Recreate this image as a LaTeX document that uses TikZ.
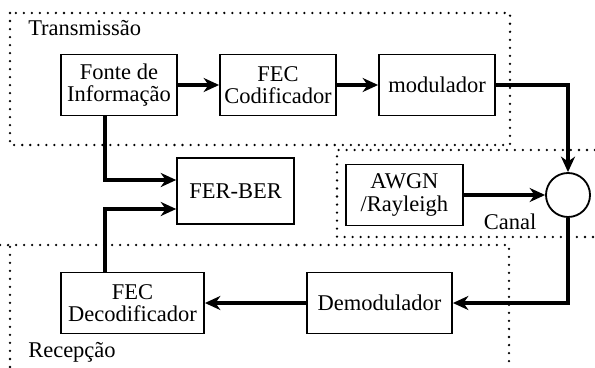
\documentclass[tikz,border=0pt]{standalone}
\usepackage{fontspec}
\setmainfont{Liberation Serif}
\usetikzlibrary{arrows.meta}

\tikzset{
  box/.style={draw, line width=1.3pt, minimum width=2.9cm, minimum height=1.525cm,
    align=center, inner sep=1pt},
  conn/.style={line width=2.8pt, -{Stealth[length=11pt, width=10pt, inset=3.5pt]}},
  region/.style={line width=1.8pt, line cap=round, dash pattern=on 0pt off 5.7pt},
}

\begin{document}
\begin{tikzpicture}[font=\fontsize{16}{16}\selectfont]
\useasboundingbox (0,0) rectangle (14.875,9.175);

% regions
\draw[region] (0.25,8.85) rectangle (12.75,5.55);
\draw[region] (14.875,5.425) -- (8.425,5.425) -- (8.425,3.25) -- (14.875,3.25);
\draw[region] (0,3.05) -- (12.725,3.05) -- (12.725,0);
\draw[region] (0.25,0) -- (0.25,3.05);
\node[anchor=west, inner sep=0pt] (ltx) at (0.7,8.475) {Transmissão};
\node[inner sep=0pt] (lcanal) at (12.75,3.625) {Canal};
\node[anchor=west, inner sep=0pt] (lrx) at (0.7,0.375) {Recepção};

% blocks
\node[box] (fonte) at (2.975,7.05) {Fonte de\\Informação};
\node[box] (fecc) at (6.95,7.05) {FEC\\Codificador};
\node[box] (mod) at (10.925,7.05) {modulador};
\node[draw, circle, line width=1.3pt, minimum size=1.1cm, inner sep=0pt] (soma) at (14.2,4.3) {};
\node[box, minimum width=2.925cm] (awgn) at (10.11,4.3) {AWGN\\/Rayleigh};
\node[box, minimum width=2.925cm, minimum height=1.65cm] (ferber) at (5.89,4.4) {FER-BER};
\node[box, minimum width=3.575cm] (fecd) at (3.3125,1.6) {FEC\\Decodificador};
\node[box, minimum width=3.625cm] (demod) at (9.4875,1.6) {Demodulador};

% connections
\draw[conn] (fonte) -- (fecc);
\draw[conn] (fecc) -- (mod);
\draw[conn] (mod.east) -| (soma.north);
\draw[conn] (awgn) -- (soma);
\draw[conn] (soma.south) |- (demod.east);
\draw[conn] (demod) -- (fecd);
\draw[conn] ([xshift=-0.35cm]fonte.south) |- ([yshift=0.275cm]ferber.west);
\draw[conn] ([xshift=-0.6875cm]fecd.north) |- ([yshift=-0.45cm]ferber.west);

\end{tikzpicture}
\end{document}
